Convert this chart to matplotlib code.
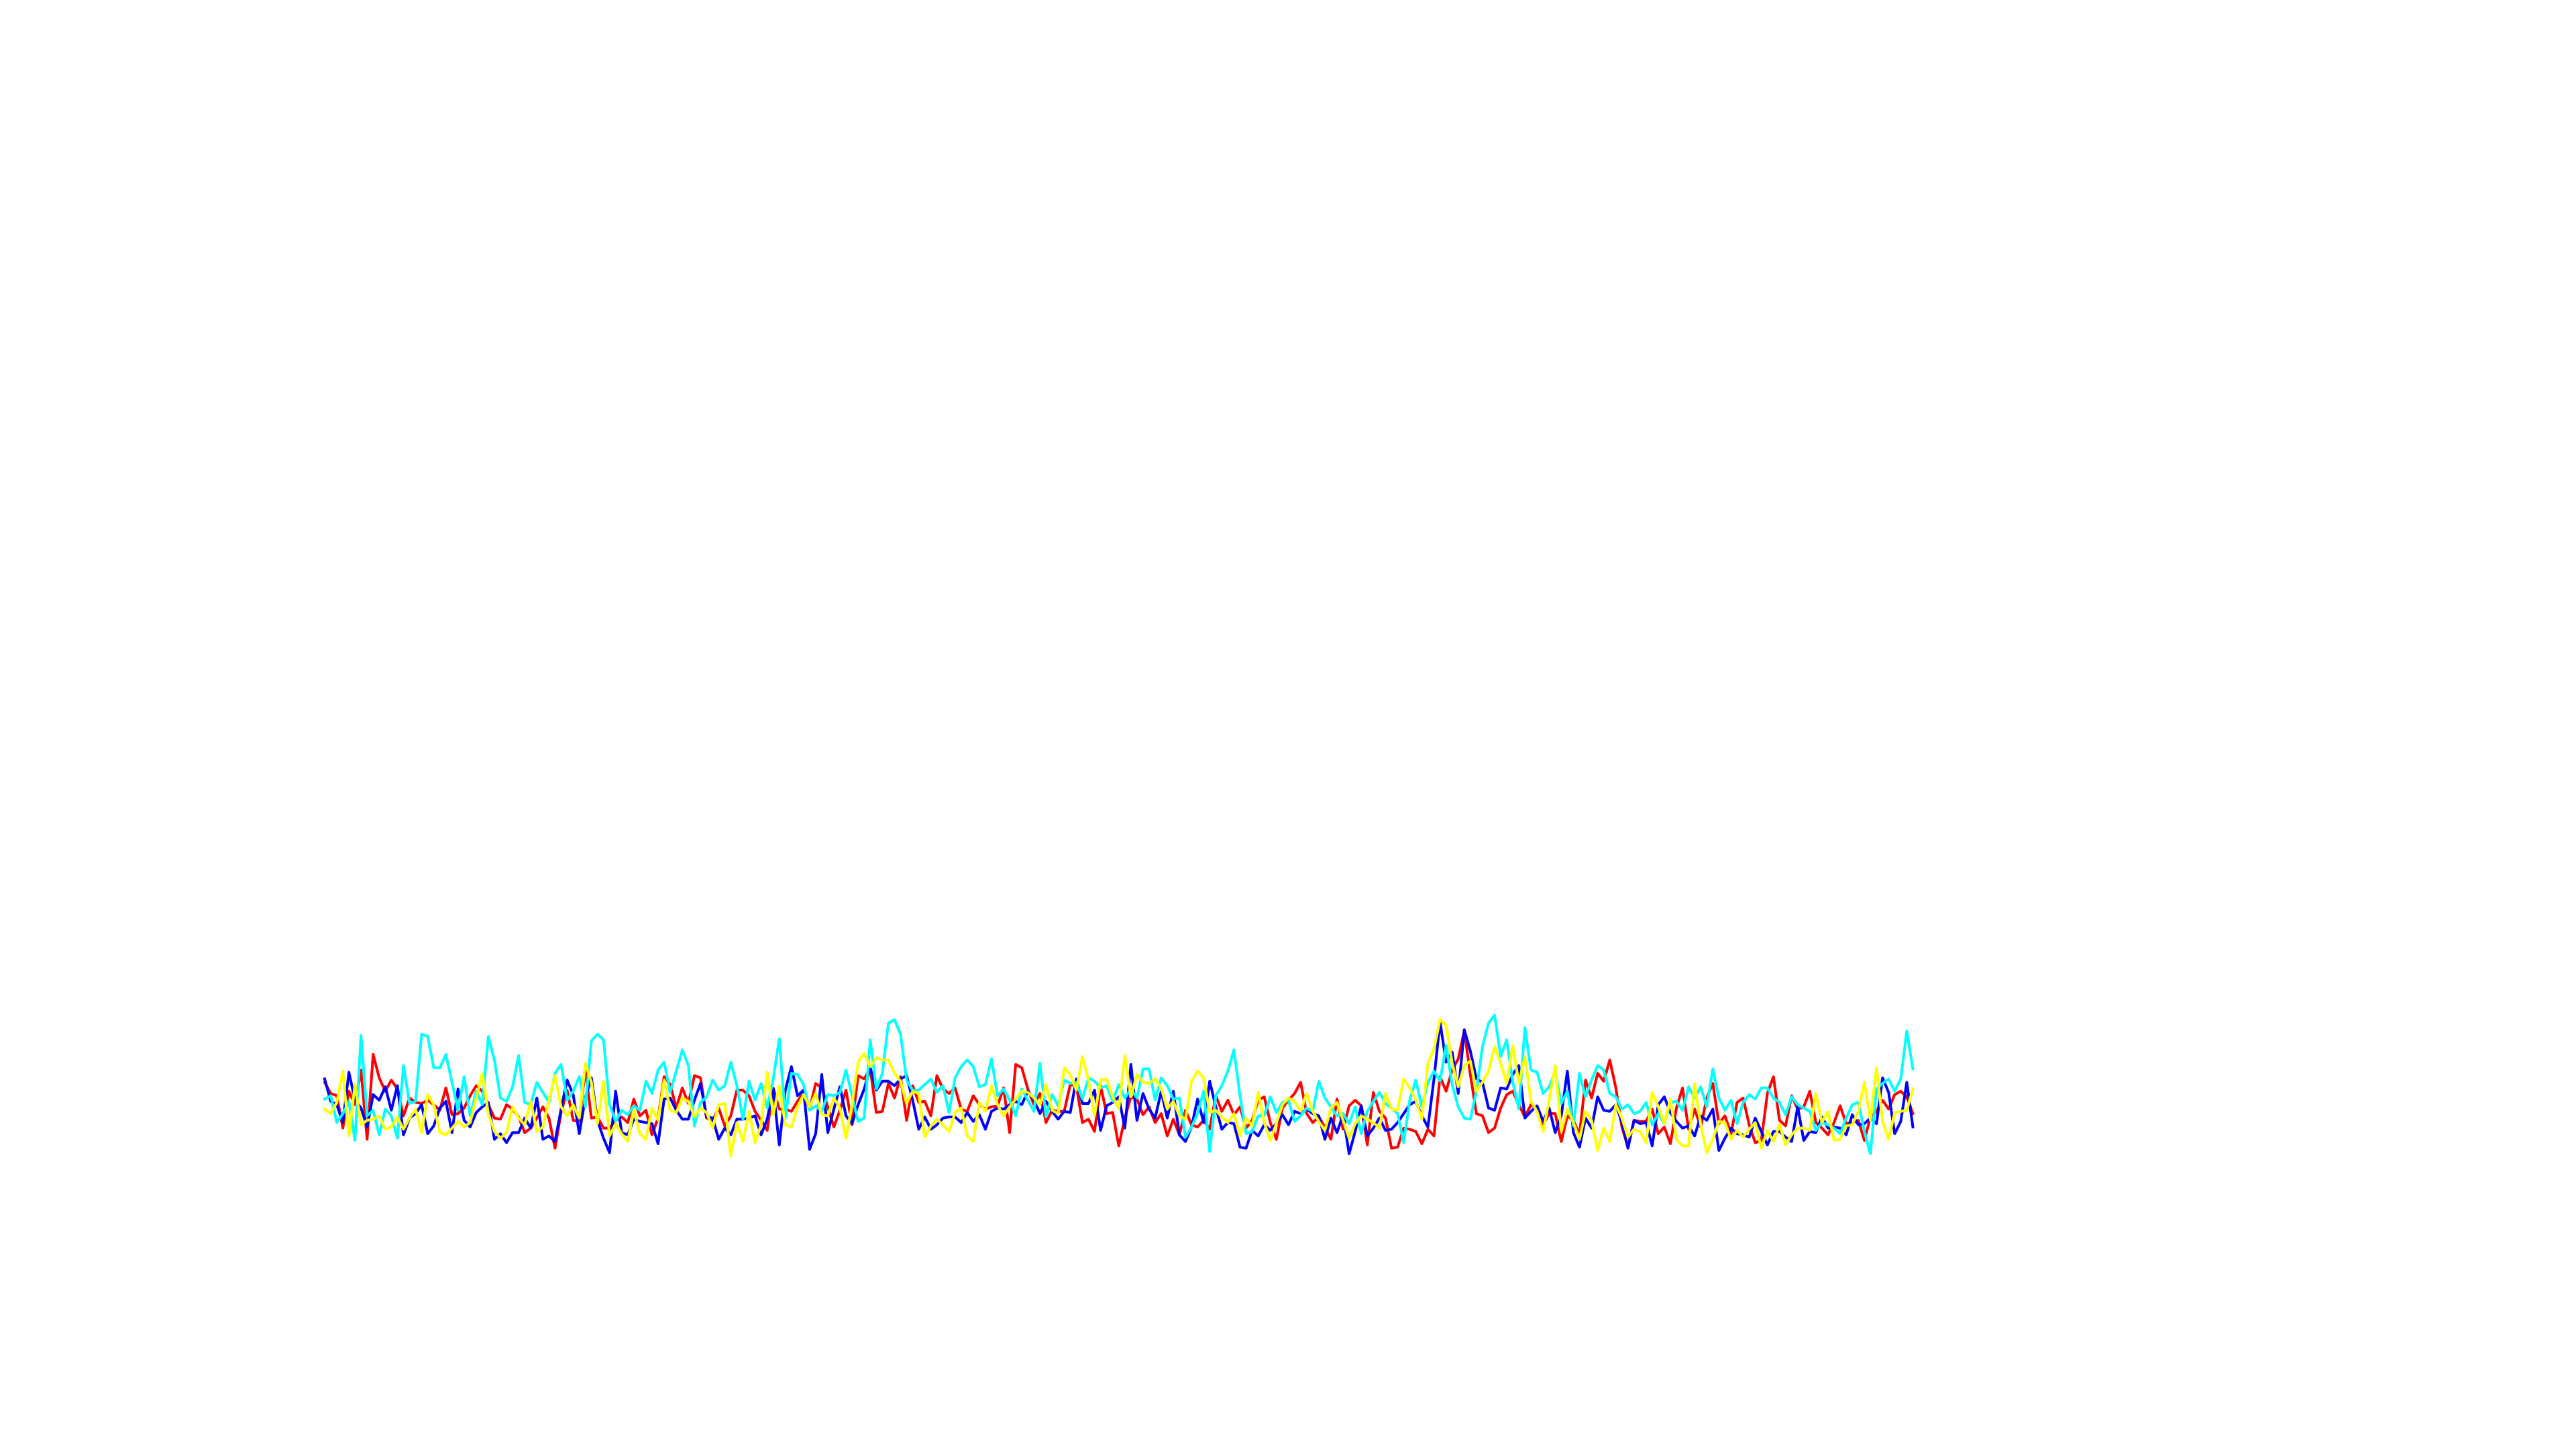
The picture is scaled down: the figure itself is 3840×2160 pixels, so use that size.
import numpy as np
import matplotlib
matplotlib.use("Agg")
import matplotlib.pyplot as plt

# four noisy traces (arbitrary units)
red_vals = [
    360, 310, 300, 155, 320, 260, 415, 105, 485, 380, 320, 370, 330, 210, 290, 270, 265, 280, 260, 235, 335,
    215, 220, 245, 300, 345, 320, 260, 200, 195, 260, 240, 205, 135, 155, 200, 250, 200, 65, 225, 325, 190, 185,
    420, 200, 205, 155, 155, 190, 205, 180, 285, 210, 235, 125, 200, 385, 350, 245, 335, 265, 390, 380, 200, 190,
    245, 165, 210, 325, 325, 300, 230, 190, 145, 335, 240, 240, 230, 275, 315, 240, 355, 335, 250, 160, 235, 325,
    170, 390, 375, 420, 225, 230, 355, 290, 385, 190, 345, 270, 275, 210, 390, 330, 310, 335, 240, 230, 300, 260, 240,
    250, 255, 335, 135, 440, 425, 330, 260, 310, 180, 235, 230, 230, 350, 345, 180, 195, 140, 345, 220, 225, 75,
    200, 295, 285, 215, 250, 180, 220, 120, 195, 125, 235, 170, 160, 190, 150, 300, 230, 280, 215, 250, 155, 190,
    280, 295, 180, 105, 245, 280, 310, 360, 220, 180, 205, 160, 105, 285, 150, 255, 280, 255, 80, 315, 230, 200,
    65, 70, 155, 150, 140, 85, 150, 120, 385, 320, 415, 465, 590, 395, 220, 210, 135, 155, 245, 305, 320, 260,
    205, 260, 245, 170, 220, 220, 95, 210, 190, 125, 370, 290, 400, 365, 460, 335, 160, 70, 190, 185, 185, 240,
    130, 160, 85, 245, 335, 150, 240, 160, 290, 355, 175, 210, 130, 270, 290, 170, 90, 100, 310, 385, 190, 165,
    300, 240, 250, 320, 180, 155, 125, 180, 255, 175, 180, 190, 100, 205, 230, 280, 240, 305, 320, 295, 220,
]
blue_vals = [
    375, 275, 260, 180, 405, 280, 245, 160, 305, 280, 340, 235, 345, 125, 200, 220, 260, 130, 165, 245, 275,
    135, 330, 190, 160, 225, 250, 270, 105, 130, 90, 135, 135, 200, 155, 290, 105, 120, 95, 240, 370, 305, 130,
    290, 380, 190, 110, 45, 320, 135, 125, 195, 185, 180, 175, 85, 285, 290, 235, 195, 195, 280, 355, 205, 200,
    105, 155, 125, 195, 195, 200, 210, 125, 195, 330, 80, 325, 430, 300, 325, 60, 130, 395, 135, 240, 340, 210,
    175, 260, 330, 425, 325, 365, 365, 345, 375, 390, 280, 150, 205, 150, 170, 200, 205, 205, 180, 225, 185, 215, 150,
    230, 245, 240, 260, 275, 260, 320, 280, 220, 275, 230, 195, 230, 225, 375, 265, 265, 325, 145, 255, 270, 295,
    155, 440, 190, 310, 240, 200, 320, 200, 320, 125, 95, 160, 285, 180, 365, 250, 150, 180, 175, 70, 65, 145,
    120, 170, 145, 175, 215, 170, 230, 220, 240, 220, 210, 105, 200, 135, 215, 40, 140, 255, 120, 155, 200, 145,
    150, 180, 220, 260, 275, 210, 160, 375, 630, 450, 495, 310, 595, 500, 375, 360, 245, 235, 335, 330, 395, 435,
    200, 230, 255, 185, 245, 135, 210, 410, 135, 70, 200, 155, 295, 235, 230, 260, 180, 65, 190, 175, 180, 75,
    260, 295, 225, 185, 155, 165, 120, 210, 190, 240, 55, 110, 155, 130, 125, 115, 200, 140, 80, 140, 140, 115,
    95, 250, 100, 140, 135, 205, 155, 160, 155, 125, 215, 170, 175, 200, 175, 380, 315, 130, 185, 360, 160,
]
cyan_vals = [
    285, 300, 180, 220, 275, 100, 570, 210, 235, 125, 240, 210, 110, 435, 265, 275, 575, 565, 425, 425, 485,
    360, 235, 385, 210, 320, 260, 565, 460, 290, 275, 340, 480, 270, 260, 360, 315, 270, 400, 440, 280, 320, 385,
    250, 545, 575, 550, 260, 185, 235, 215, 255, 235, 365, 310, 415, 450, 315, 410, 505, 435, 165, 270, 295, 370,
    325, 345, 450, 345, 195, 365, 280, 355, 245, 375, 555, 200, 400, 395, 350, 235, 255, 230, 305, 300, 315, 415,
    300, 185, 200, 550, 330, 400, 625, 640, 575, 370, 325, 325, 350, 375, 315, 345, 225, 380, 430, 460, 430, 340, 350,
    465, 300, 330, 280, 210, 330, 280, 230, 445, 205, 305, 255, 370, 355, 360, 285, 380, 365, 335, 345, 275, 350,
    290, 330, 290, 420, 420, 280, 380, 345, 285, 290, 115, 160, 220, 320, 50, 300, 345, 410, 505, 300, 130, 140,
    210, 210, 295, 225, 270, 280, 185, 210, 245, 230, 365, 290, 250, 210, 220, 175, 250, 130, 230, 275, 315, 265,
    245, 220, 90, 280, 370, 250, 360, 410, 365, 525, 350, 250, 200, 195, 320, 520, 625, 660, 475, 550, 360, 240,
    605, 415, 405, 310, 340, 405, 265, 320, 165, 400, 295, 370, 435, 415, 310, 295, 240, 260, 220, 230, 270, 170,
    220, 175, 270, 275, 235, 340, 290, 340, 250, 420, 290, 235, 280, 175, 270, 305, 285, 335, 335, 290, 270, 215,
    295, 260, 245, 230, 145, 180, 170, 155, 130, 200, 260, 270, 140, 40, 330, 355, 375, 320, 375, 590, 420,
]
yellow_vals = [
    240, 220, 270, 410, 120, 350, 170, 190, 195, 210, 150, 160, 205, 150, 200, 240, 135, 305, 260, 135, 125,
    155, 185, 160, 180, 290, 400, 220, 140, 110, 135, 250, 200, 170, 275, 140, 160, 280, 390, 250, 210, 260, 200,
    445, 360, 175, 365, 120, 175, 130, 95, 235, 130, 105, 245, 190, 370, 235, 225, 290, 275, 205, 245, 225, 155,
    260, 265, 30, 180, 95, 230, 90, 170, 405, 215, 345, 170, 160, 250, 305, 250, 310, 215, 210, 290, 245, 110,
    260, 450, 490, 430, 470, 460, 460, 400, 365, 265, 320, 310, 115, 165, 195, 170, 140, 225, 245, 120, 95, 270, 230,
    345, 260, 210, 250, 285, 320, 315, 290, 260, 350, 235, 220, 425, 395, 325, 475, 370, 210, 370, 375, 295, 240,
    480, 295, 395, 360, 355, 375, 335, 240, 275, 210, 195, 365, 410, 380, 225, 235, 205, 180, 220, 120, 200, 165,
    315, 180, 100, 175, 260, 290, 275, 230, 310, 230, 185, 145, 245, 270, 190, 110, 175, 210, 195, 180, 155, 310,
    240, 235, 375, 335, 280, 195, 445, 510, 640, 615, 445, 340, 435, 455, 320, 360, 410, 520, 445, 355, 525, 355,
    475, 275, 230, 140, 280, 435, 140, 240, 180, 105, 230, 190, 55, 155, 95, 260, 200, 115, 150, 140, 90, 315,
    250, 175, 285, 105, 75, 75, 355, 170, 45, 105, 185, 180, 105, 145, 115, 150, 180, 65, 145, 95, 170, 80,
    125, 155, 155, 145, 310, 180, 230, 100, 105, 165, 170, 230, 360, 190, 425, 185, 105, 225, 230, 235, 330,
]

series = [
    (red_vals, "red"),
    (blue_vals, "blue"),
    (cyan_vals, "cyan"),
    (yellow_vals, "yellow"),
]

fig, ax = plt.subplots(figsize=(19.2, 10.8), dpi=200)

for vals, col in series:
    x = np.arange(len(vals))
    ax.plot(x, vals, color=col, linewidth=1.45)

ax.set_xlim(-0.44, 328.9)
ax.set_ylim(-567, 4422)
ax.axis("off")

plt.savefig("out.png", dpi=200)
